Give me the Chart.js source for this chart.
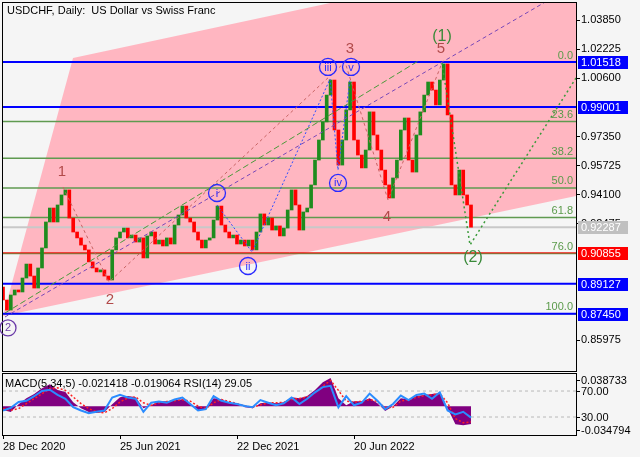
<!DOCTYPE html>
<html>
<head>
<meta charset="utf-8">
<script src="https://cdn.jsdelivr.net/npm/chart.js@4.4.0/dist/chart.umd.min.js"></script>
<style>
  body { margin: 0; background: #f5f5f5; }
  #wrap { position: relative; width: 640px; height: 457px; overflow: hidden; }
  canvas { position: absolute; left: 0; }
</style>
</head>
<body>
<div id="wrap">
  <canvas id="priceChart" width="640" height="373" style="top:0"></canvas>
  <canvas id="indChart" width="640" height="84" style="top:373px"></canvas>
</div>
<script>
// USDCHF daily closes, one every step (~4 sessions)
const closes = [
  0.8822, 0.8766, 0.8850, 0.8878, 0.8867, 0.8945, 0.9023, 0.8956, 0.8889, 0.9001,
  0.9113, 0.9258, 0.9336, 0.9258, 0.9353, 0.9409, 0.9437, 0.9280, 0.9202, 0.9169,
  0.9129, 0.9102, 0.9035, 0.9001, 0.8979, 0.8990, 0.8956, 0.8934, 0.9102, 0.9169,
  0.9202, 0.9224, 0.9169, 0.9185, 0.9146, 0.9169, 0.9057, 0.9180, 0.9202, 0.9135,
  0.9157, 0.9124, 0.9169, 0.9135, 0.9241, 0.9297, 0.9347, 0.9280, 0.9258, 0.9202,
  0.9157, 0.9113, 0.9157, 0.9169, 0.9269, 0.9347, 0.9241, 0.9202, 0.9169, 0.9185,
  0.9135, 0.9157, 0.9124, 0.9157, 0.9102, 0.9202, 0.9303, 0.9241, 0.9280, 0.9213,
  0.9236, 0.9180, 0.9224, 0.9325, 0.9437, 0.9353, 0.9213, 0.9314, 0.9336, 0.9465,
  0.9604, 0.9716, 0.9817, 0.9967, 1.0051, 0.9772, 0.9576, 0.9716, 0.9884, 1.0040,
  0.9716, 0.9632, 0.9560, 0.9660, 0.9873, 0.9744, 0.9660, 0.9548, 0.9465, 0.9392,
  0.9504, 0.9604, 0.9772, 0.9839, 0.9604, 0.9537, 0.9744, 0.9873, 0.9967, 1.0040,
  0.9995, 0.9912, 1.0051, 1.0141, 0.9856, 0.9465, 0.9409, 0.9548, 0.9409, 0.9353,
  0.9229
];
const firstOpen = 0.8895;
const xMax = 146.92;

const dateTicks = [0, 30, 60, 90];
const dateLabels = ['28 Dec 2020', '25 Jun 2021', '22 Dec 2021', '20 Jun 2022'];
const priceTicks = [1.0385, 1.02225, 1.006, 0.9735, 0.95725, 0.941, 0.92475, 0.85975];
const priceMin = 0.84255;
const priceMax = 1.04814;

// horizontal levels
const blueLevels = [1.01518, 0.99001, 0.89127, 0.87450];
const fibNames = ['0.0', '23.6', '38.2', '50.0', '61.8', '76.0', '100.0'];
const fibLevels = [1.01518, 0.98198, 0.96144, 0.94484, 0.92824, 0.90826, 0.87450];
const stopLevel = 0.90855;
const lastPrice = 0.92287;

// pink channel outline
const channelX = [0, 17.95, 146.92, 146.92, 0];
const channelY = [0.87328, 1.01742, 1.0775, 0.94032, 0.87328];

// wave lines
const waveX = [15.38, 27.18, 87.69, 98.72, 112.56];
const waveY = [0.94535, 0.89227, 1.01518, 0.93809, 1.01462];
const subX = [54.87, 63.85, 83.85, 85.9, 88.97];
const subY = [0.93529, 0.90904, 1.00568, 0.95485, 1.00512];
const greenLineX = [0.51, 106.9];
const greenLineY = [0.87496, 1.0163];
const purpleLineX = [0.51, 146.92];
const purpleLineY = [0.87272, 1.0587];
const forecastX = [112.56, 119.74, 146.92];
const forecastY = [1.01462, 0.91295, 1.00624];

// wave labels: text, x, price
const waveLabels = [['1', 15.13, 0.9537], ['2', 27.44, 0.8822], ['3', 88.97, 1.0224], ['4', 98.46, 0.9286], ['5', 112.31, 1.0224]];
const degreeLabels = [['(1)', 112.56, 1.0292], ['(2)', 120.51, 0.9057]];
const circleLabels = [['i', 54.87, 0.9420], ['ii', 62.82, 0.9012], ['iii', 83.33, 1.0124], ['iv', 85.90, 0.9476], ['v', 89.23, 1.0124]];
const startLabel = ['2', 1.28, 0.8666];

// indicator window, one value every 2 steps
const macd = [
  -0.0048, -0.0072, 0.0024, 0.0096, 0.0145, 0.0217, 0.0265, 0.0193, 0.0169, 0.0048,
  -0.0024, -0.0072, -0.0084, -0.0072, 0.0024, 0.0108, 0.0121, 0.0108, -0.0024, 0.0012,
  0.0060, 0.0060, 0.0072, 0.0084, 0.0036, -0.0048, -0.0036, 0.0096, 0.0084, 0.0036,
  0.0024, -0.0012, -0.0024, 0.0036, 0.0048, 0.0036, 0.0048, 0.0108, 0.0096, 0.0121,
  0.0193, 0.0289, 0.0338, 0.0096, 0.0012, 0.0060, 0.0060, 0.0096, 0.0036, -0.0060,
  0.0000, 0.0096, 0.0084, 0.0121, 0.0133, 0.0145, 0.0157, -0.0024, -0.0217, -0.0229,
  -0.021418
];
const signal = [
  -0.0030, -0.0050, -0.0030, 0.0030, 0.0090, 0.0150, 0.0210, 0.0220, 0.0190, 0.0110,
  0.0030, -0.0030, -0.0070, -0.0080, -0.0030, 0.0050, 0.0100, 0.0110, 0.0040, 0.0010,
  0.0040, 0.0055, 0.0065, 0.0078, 0.0060, 0.0000, -0.0030, 0.0040, 0.0080, 0.0055,
  0.0030, 0.0005, -0.0015, 0.0015, 0.0040, 0.0040, 0.0045, 0.0080, 0.0092, 0.0110,
  0.0160, 0.0240, 0.0310, 0.0190, 0.0060, 0.0050, 0.0058, 0.0080, 0.0055, -0.0020,
  -0.0015, 0.0060, 0.0078, 0.0105, 0.0125, 0.0138, 0.0150, 0.0040, -0.0150, -0.0200,
  -0.019064
];
const rsi = [
  40, 44, 53, 55, 62, 70, 72, 64, 58, 45,
  40, 36, 38, 40, 60, 64, 60, 58, 38, 52,
  54, 52, 57, 60, 50, 40, 42, 62, 55, 52,
  50, 47, 45, 56, 52, 48, 51, 60, 50, 58,
  68, 76, 78, 45, 62, 48, 52, 66, 55, 42,
  50, 63, 56, 64, 66, 58, 68, 40, 34, 38,
  29.05
];
const macdMax = 0.038733;
const macdMin = -0.034794;
const rsiLevels = [70, 30];

Chart.defaults.font.family = '"Liberation Sans", Arial, sans-serif';
Chart.defaults.font.size = 11;
Chart.defaults.color = '#000';

const FONT = '"Liberation Sans", Arial, sans-serif';

function pts(xs, ys) {
  return xs.map((x, i) => ({x: x, y: ys[i]}));
}

function hLine(level, color, width, order) {
  return {
    type: 'line',
    data: [{x: 0, y: level}, {x: xMax, y: level}],
    borderColor: color,
    borderWidth: width,
    pointRadius: 0,
    fill: false,
    order: order
  };
}

function dashLine(data, color, dash, width) {
  return {
    type: 'line',
    data: data,
    borderColor: color,
    borderWidth: width,
    borderDash: dash,
    pointRadius: 0,
    fill: false,
    tension: 0,
    order: 5
  };
}

// drawing on top of the price window
const priceOverlay = {
  id: 'priceOverlay',
  afterDraw(chart) {
    const {ctx, chartArea: a, scales: {x, y}} = chart;
    ctx.save();

    ctx.strokeStyle = '#000';
    ctx.lineWidth = 1;
    ctx.strokeRect(a.left - 0.5, a.top - 0.5, a.right - a.left + 1, a.bottom - a.top + 1);

    ctx.font = '11px ' + FONT;
    ctx.fillStyle = '#000';
    ctx.textAlign = 'left';
    ctx.textBaseline = 'middle';
    ctx.fillText('USDCHF, Daily:  US Dollar vs Swiss Franc', 7, 11);

    // fibo level names
    ctx.textAlign = 'right';
    ctx.textBaseline = 'bottom';
    ctx.fillStyle = '#5a9a4a';
    fibLevels.forEach((l, i) => {
      ctx.fillText(fibNames[i], a.right - 3, y.getPixelForValue(l) - 1);
    });

    ctx.textAlign = 'center';
    ctx.textBaseline = 'middle';
    ctx.font = '15px ' + FONT;
    ctx.fillStyle = '#b24a4a';
    waveLabels.forEach(w => ctx.fillText(w[0], x.getPixelForValue(w[1]), y.getPixelForValue(w[2])));

    ctx.font = '16px ' + FONT;
    ctx.fillStyle = '#3a8a3a';
    degreeLabels.forEach(w => ctx.fillText(w[0], x.getPixelForValue(w[1]), y.getPixelForValue(w[2])));

    ctx.font = '11px ' + FONT;
    ctx.strokeStyle = '#2a2aff';
    ctx.fillStyle = '#2a2aff';
    ctx.lineWidth = 1.3;
    circleLabels.forEach(w => {
      const px = x.getPixelForValue(w[1]);
      const py = y.getPixelForValue(w[2]);
      ctx.beginPath();
      ctx.arc(px, py, 8.5, 0, Math.PI * 2);
      ctx.stroke();
      ctx.fillText(w[0], px, py + 0.5);
    });

    const sx = x.getPixelForValue(startLabel[1]);
    const sy = y.getPixelForValue(startLabel[2]);
    ctx.strokeStyle = '#6a3aa8';
    ctx.fillStyle = '#6a3aa8';
    ctx.beginPath();
    ctx.arc(sx, sy, 8, 0, Math.PI * 2);
    ctx.stroke();
    ctx.fillText(startLabel[0], sx, sy + 0.5);

    // coloured price tags on the axis
    const tags = blueLevels.map(l => [l, '#0000ff']);
    tags.push([lastPrice, '#c0c0c0'], [stopLevel, '#ff0000']);
    ctx.textAlign = 'left';
    tags.forEach(t => {
      const py = Math.round(y.getPixelForValue(t[0]));
      ctx.fillStyle = t[1];
      ctx.fillRect(a.right + 2, py - 6, 50, 13);
      ctx.fillStyle = '#fff';
      ctx.fillText(t[0].toFixed(5), a.right + 5, py + 1);
    });

    ctx.restore();
  }
};

new Chart(document.getElementById('priceChart'), {
  type: 'bar',
  data: {
    datasets: [
      {
        type: 'line',
        data: pts(channelX, channelY),
        backgroundColor: '#ffb6c1',
        borderWidth: 0,
        pointRadius: 0,
        fill: 'shape',
        order: 100
      },
      ...fibLevels.map(l => hLine(l, '#5f9a50', 1.5, 60)),
      hLine(lastPrice, '#c8c8c8', 2, 55),
      hLine(stopLevel, '#ff0000', 1, 45),
      ...blueLevels.map(l => hLine(l, '#0000ff', 2, 40)),
      {
        type: 'bar',
        data: closes.map((c, i) => ({x: i, y: [i ? closes[i - 1] : firstOpen, c]})),
        backgroundColor: ctx => {
          const v = ctx.raw && ctx.raw.y;
          return v && v[1] >= v[0] ? '#1e8c1e' : '#ff0000';
        },
        barThickness: 3,
        minBarLength: 2,
        order: 10
      },
      dashLine(pts(greenLineX, greenLineY), '#4a9a3a', [6, 3], 1),
      dashLine(pts(purpleLineX, purpleLineY), '#7848b8', [4, 3], 1),
      dashLine(pts(waveX, waveY), '#c86464', [3, 3], 1),
      dashLine(pts(subX, subY), '#3050ff', [2, 2], 1),
      dashLine(pts(forecastX, forecastY), '#3a9a3a', [2, 3], 1.5)
    ]
  },
  options: {
    responsive: false,
    animation: false,
    layout: {padding: {left: 3, top: 3, right: 0, bottom: 2}},
    plugins: {legend: {display: false}, tooltip: {enabled: false}},
    scales: {
      x: {
        type: 'linear',
        min: 0,
        max: xMax,
        offset: false,
        display: false
      },
      y: {
        position: 'right',
        min: priceMin,
        max: priceMax,
        afterBuildTicks: axis => { axis.ticks = priceTicks.map(v => ({value: v})); },
        afterFit: axis => { axis.width = 64; axis.paddingTop = 0; axis.paddingBottom = 0; },
        ticks: {
          autoSkip: false,
          padding: 1,
          callback: v => v.toFixed(5)
        },
        grid: {drawOnChartArea: false, tickLength: 4, color: '#000'},
        border: {display: true, color: '#000'}
      }
    }
  },
  plugins: [priceOverlay]
});

// indicator window
const indOverlay = {
  id: 'indOverlay',
  afterDraw(chart) {
    const {ctx, chartArea: a, scales: {y2}} = chart;
    ctx.save();
    ctx.strokeStyle = '#000';
    ctx.lineWidth = 1;
    ctx.strokeRect(a.left - 0.5, a.top - 0.5, a.right - a.left + 1, a.bottom - a.top + 1);

    ctx.font = '11px ' + FONT;
    ctx.fillStyle = '#000';
    ctx.textAlign = 'left';
    ctx.textBaseline = 'middle';
    ctx.fillText('MACD(5,34,5) -0.021418 -0.019064 RSI(14) 29.05', 5, 11);

    const marks = [
      [macdMax.toFixed(6), a.top + 6],
      [rsiLevels[0].toFixed(2), y2.getPixelForValue(rsiLevels[0])],
      [rsiLevels[1].toFixed(2), y2.getPixelForValue(rsiLevels[1])],
      [macdMin.toFixed(6), a.bottom - 5]
    ];
    marks.forEach(m => {
      const py = Math.round(m[1]) + 0.5;
      ctx.beginPath();
      ctx.moveTo(a.right, py);
      ctx.lineTo(a.right + 4, py);
      ctx.stroke();
      ctx.fillText(m[0], a.right + 5, py);
    });
    ctx.restore();
  }
};

const indX = macd.map((v, i) => i * 2);

new Chart(document.getElementById('indChart'), {
  type: 'line',
  data: {
    datasets: [
      {
        data: pts(indX, rsi),
        yAxisID: 'y2',
        borderColor: '#2a8cff',
        borderWidth: 2,
        pointRadius: 0,
        tension: 0,
        order: 1
      },
      {
        data: pts(indX, signal),
        yAxisID: 'y',
        borderColor: '#ff2020',
        borderWidth: 1.5,
        borderDash: [2, 2],
        pointRadius: 0,
        tension: 0,
        order: 2
      },
      {
        data: pts(indX, macd),
        yAxisID: 'y',
        borderWidth: 0,
        backgroundColor: '#800080',
        fill: 'origin',
        pointRadius: 0,
        tension: 0,
        order: 3
      },
      ...rsiLevels.map(l => ({
        data: [{x: 0, y: l}, {x: xMax, y: l}],
        yAxisID: 'y2',
        borderColor: '#b8b8b8',
        borderWidth: 1,
        borderDash: [3, 3],
        pointRadius: 0,
        order: 4
      }))
    ]
  },
  options: {
    responsive: false,
    animation: false,
    layout: {padding: {left: 3, top: 1, right: 0, bottom: 0}},
    plugins: {legend: {display: false}, tooltip: {enabled: false}},
    scales: {
      x: {
        type: 'linear',
        min: 0,
        max: xMax,
        afterBuildTicks: axis => { axis.ticks = dateTicks.map(v => ({value: v})); },
        afterFit: axis => { axis.height = 22; axis.paddingLeft = 0; axis.paddingRight = 0; },
        ticks: {
          autoSkip: false,
          maxRotation: 0,
          align: 'start',
          padding: 1,
          callback: (v, i) => dateLabels[i]
        },
        grid: {drawOnChartArea: false, tickLength: 4, color: '#000'},
        border: {display: true, color: '#000'}
      },
      y: {
        position: 'right',
        min: macdMin,
        max: macdMax,
        afterFit: axis => { axis.width = 64; axis.paddingTop = 0; axis.paddingBottom = 0; },
        ticks: {display: false},
        grid: {drawOnChartArea: false, drawTicks: false},
        border: {display: true, color: '#000'}
      },
      y2: {
        display: false,
        min: 2.3,
        max: 96.2
      }
    }
  },
  plugins: [indOverlay]
});
</script>
</body>
</html>
